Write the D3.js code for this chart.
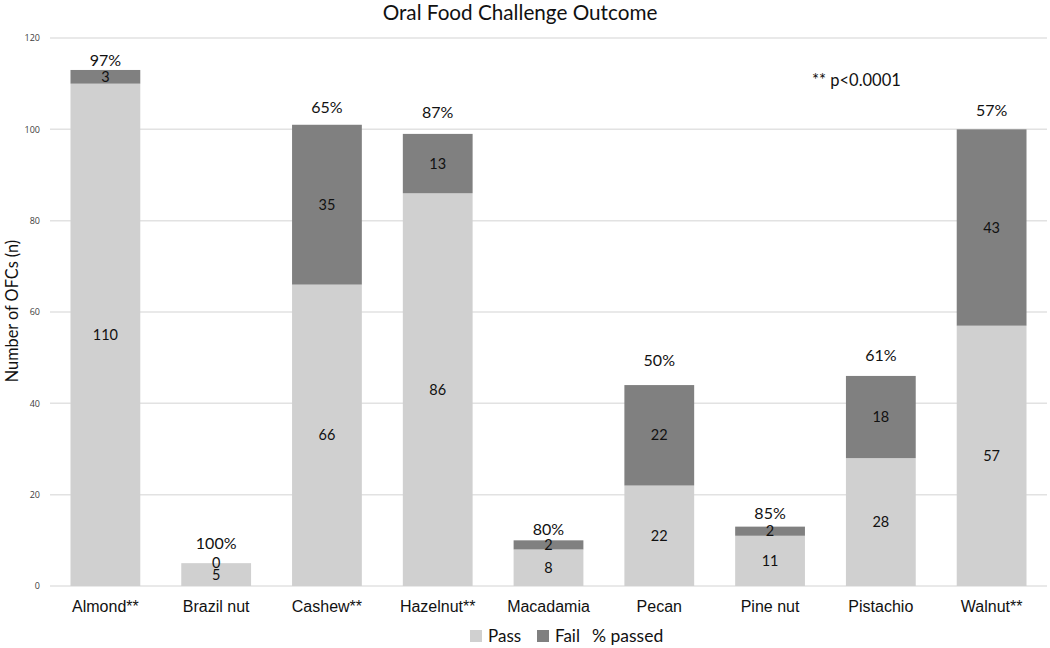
<!DOCTYPE html>
<html><head><meta charset="utf-8">
<script src="https://cdn.jsdelivr.net/npm/d3@7"></script>
<style>body{margin:0;background:#fff}svg{display:block}</style>
</head><body>
<svg id="chart" width="1050" height="648"></svg>
<script>
const categories = ["Almond**","Brazil nut","Cashew**","Hazelnut**","Macadamia","Pecan","Pine nut","Pistachio","Walnut**"];
const passValues = [110,5,66,86,8,22,11,28,57];
const failValues = [3,0,35,13,2,22,2,18,43];
const pctLabels = ["97%","100%","65%","87%","80%","50%","85%","61%","57%"];
// y-value of the (invisible) "% passed" series that carries the percentage labels
const pctAnchor = [115,9.3,104.7,103.8,12.3,49.3,15.8,50.6,104.2];
const yTicks = [0,20,40,60,80,100,120];
const seriesNames = ["Pass","Fail"];

const svg = d3.select("#chart");
const C_PASS = "#d0d0d0", C_FAIL = "#808080", C_GRID = "#e2e2e2";
const CAL = "Lato, 'Open Sans', sans-serif";
const ARI = "'Liberation Sans', Arial, sans-serif";

const x = d3.scaleBand().domain(categories).range([50,1047]).paddingInner(0.37).paddingOuter(0.185);
const y = d3.scaleLinear().domain([0,120]).range([586,38]);

// gridlines
svg.append("g").selectAll("line").data(yTicks).join("line")
  .attr("x1",50).attr("x2",1047)
  .attr("y1",d=>y(d)).attr("y2",d=>y(d))
  .attr("stroke",C_GRID).attr("stroke-width",1.5);

// y axis labels
const yAxis = d3.axisLeft(y).tickValues(yTicks).tickSize(0).tickPadding(0);
const gy = svg.append("g").attr("transform","translate(40,0)").call(yAxis);
gy.select(".domain").remove();
gy.selectAll("text").attr("font-family","'Open Sans', sans-serif").attr("font-size",9).attr("fill","#404040");

// bars
const data = categories.map((c,i)=>({c, pass:passValues[i], fail:failValues[i], pct:pctLabels[i], anchor:pctAnchor[i]}));
const bars = svg.append("g");
bars.selectAll("rect.pass").data(data).join("rect").attr("class","pass")
  .attr("x",d=>x(d.c)).attr("width",x.bandwidth())
  .attr("y",d=>y(d.pass)).attr("height",d=>y(0)-y(d.pass)).attr("fill",C_PASS);
bars.selectAll("rect.fail").data(data).join("rect").attr("class","fail")
  .attr("x",d=>x(d.c)).attr("width",x.bandwidth())
  .attr("y",d=>y(d.pass+d.fail)).attr("height",d=>y(d.pass)-y(d.pass+d.fail)).attr("fill",C_FAIL);

// value labels
const lab = svg.append("g").attr("font-family",CAL).attr("font-size",14.5).attr("fill","#111").attr("text-anchor","middle");
lab.selectAll("text.pv").data(data).join("text").attr("class","pv")
  .attr("x",d=>x(d.c)+x.bandwidth()/2).attr("y",d=>y(d.pass/2)).attr("dy","0.35em").text(d=>d.pass);
lab.selectAll("text.fv").data(data).join("text").attr("class","fv")
  .attr("x",d=>x(d.c)+x.bandwidth()/2).attr("y",d=>y(d.pass+d.fail/2)).attr("dy","0.35em").text(d=>d.fail);

// percent labels
svg.append("g").attr("font-family",CAL).attr("font-size",16).attr("fill","#111").attr("text-anchor","middle")
  .selectAll("text").data(data).join("text")
  .attr("x",d=>x(d.c)+x.bandwidth()/2).attr("y",d=>y(d.anchor)).attr("dy","0.35em").text(d=>d.pct);

// category labels
svg.append("g").attr("font-family",ARI).attr("font-size",16).attr("fill","#111").attr("text-anchor","middle")
  .selectAll("text").data(categories).join("text")
  .attr("x",d=>x(d)+x.bandwidth()/2).attr("y",606).attr("dy","0.35em").text(d=>d);

// title
svg.append("text").attr("x",520).attr("y",13).attr("dy","0.35em").attr("text-anchor","middle")
  .attr("font-family",CAL).attr("font-size",20.7).attr("fill","#111").text("Oral Food Challenge Outcome");

// y axis title
svg.append("text").attr("transform","translate(12,311) rotate(-90)").attr("dy","0.35em").attr("text-anchor","middle")
  .attr("font-family",CAL).attr("font-size",16.3).attr("fill","#111").text("Number of OFCs (n)");

// p-value note
svg.append("text").attr("x",812).attr("y",80).attr("dy","0.35em")
  .attr("font-family",CAL).attr("font-size",16.5).attr("fill","#111").text("** p<0.0001");

// legend
const leg = svg.append("g").attr("font-family",CAL).attr("font-size",17).attr("fill","#111");
const legX = [470,537];
const legC = [C_PASS,C_FAIL];
seriesNames.forEach((n,i)=>{
  leg.append("rect").attr("x",legX[i]).attr("y",630).attr("width",12).attr("height",12).attr("fill",legC[i]);
  leg.append("text").attr("x",legX[i]+18).attr("y",636).attr("dy","0.35em").text(n);
});
leg.append("text").attr("x",592).attr("y",636).attr("dy","0.35em").attr("font-size",17.5).text("% passed");
</script>
</body></html>
